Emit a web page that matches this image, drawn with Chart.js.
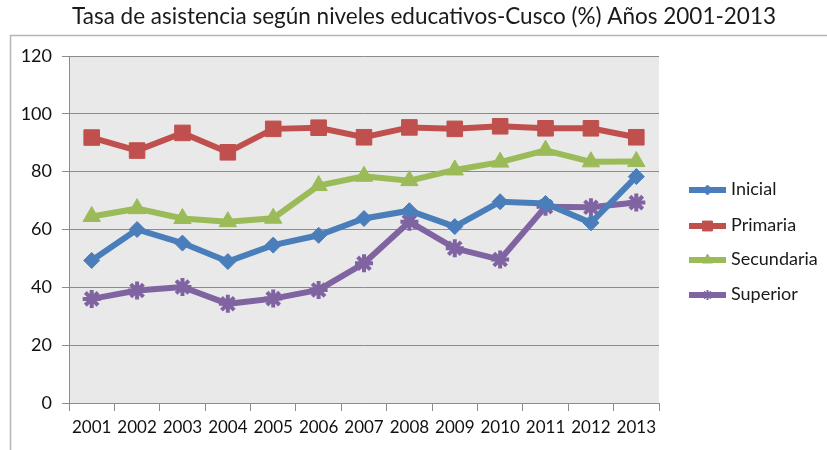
<!DOCTYPE html>
<html>
<head>
<meta charset="utf-8">
<script src="https://cdn.jsdelivr.net/npm/chart.js@4"></script>
<style>
  html, body { margin: 0; padding: 0; background: #ffffff; }
  canvas { display: block; }
</style>
</head>
<body>
<canvas id="chart" width="827" height="450"></canvas>
<script>
// Values
const years = ['2001', '2002', '2003', '2004', '2005', '2006', '2007', '2008', '2009', '2010', '2011', '2012', '2013'];
const inicial = [49.3, 60.0, 55.3, 48.9, 54.6, 58.0, 63.8, 66.5, 61.0, 69.6, 69.0, 62.3, 78.3];
const primaria = [91.8, 87.3, 93.4, 86.7, 94.8, 95.2, 91.9, 95.3, 94.8, 95.7, 95.0, 95.0, 91.9];
const secundaria = [64.5, 67.2, 63.8, 62.7, 63.9, 75.2, 78.4, 76.9, 80.6, 83.3, 87.4, 83.4, 83.5];
const superior = [36.0, 38.9, 40.1, 34.3, 36.1, 39.1, 48.3, 62.7, 53.5, 49.6, 67.9, 67.7, 69.3];
const yTicks = [0, 20, 40, 60, 80, 100, 120];

const titleText = 'Tasa de asistencia según niveles educativos-Cusco (%) Años 2001-2013';
const fontFamily = 'Lato, "Open Sans", sans-serif';

// Frame, plot background, title and legend drawn around the chart
const decorPlugin = {
    id: 'decor',
    beforeDraw(chart) {
        const { ctx, chartArea } = chart;
        ctx.save();
        ctx.fillStyle = '#ffffff';
        ctx.fillRect(0, 0, chart.width, chart.height);
        // outer frame
        ctx.strokeStyle = '#b5b5b5';
        ctx.lineWidth = 1.5;
        ctx.beginPath();
        ctx.moveTo(10.5, chart.height);
        ctx.lineTo(10.5, 35.5);
        ctx.lineTo(chart.width, 35.5);
        ctx.stroke();
        // plot background
        ctx.fillStyle = '#e9e9e9';
        ctx.fillRect(chartArea.left, chartArea.top, chartArea.right - chartArea.left, chartArea.bottom - chartArea.top);
        // title, sized to span the same width as the original
        ctx.font = '18px ' + fontFamily;
        const size = 18 * 705 / ctx.measureText(titleText).width;
        ctx.font = size.toFixed(1) + 'px ' + fontFamily;
        ctx.fillStyle = '#1a1a1a';
        ctx.textAlign = 'center';
        ctx.textBaseline = 'middle';
        ctx.fillText(titleText, 424, 17);
        ctx.restore();
    },
    afterDraw(chart) {
        const { ctx } = chart;
        const rows = [190, 226, 260, 295];
        ctx.save();
        chart.data.datasets.forEach((ds, i) => {
            const y = rows[i];
            ctx.strokeStyle = ds.borderColor;
            ctx.fillStyle = ds.borderColor;
            ctx.lineWidth = 6;
            ctx.beginPath();
            ctx.moveTo(689, y);
            ctx.lineTo(726, y);
            ctx.stroke();
            ctx.lineWidth = ds.legendMarkerWidth;
            Chart.helpers.drawPoint(ctx, {
                pointStyle: ds.pointStyle,
                radius: ds.legendMarkerRadius,
                rotation: 0,
                borderWidth: ds.legendMarkerWidth
            }, 707.5, y);
            ctx.fillStyle = '#1a1a1a';
            ctx.font = '18px ' + fontFamily;
            ctx.textAlign = 'left';
            ctx.textBaseline = 'middle';
            ctx.fillText(ds.label, 731, y - 1);
        });
        ctx.restore();
    }
};

const makeSeries = (label, data, color, style, radius, bw) => ({
    label,
    data,
    borderColor: color,
    backgroundColor: color,
    pointBackgroundColor: color,
    pointBorderColor: color,
    pointStyle: style,
    pointRadius: radius,
    pointHoverRadius: radius,
    pointBorderWidth: bw,
    borderWidth: 6,
    tension: 0,
    legendMarkerRadius: Math.round(radius * 0.6),
    legendMarkerWidth: bw > 1 ? 2 : 1
});

new Chart(document.getElementById('chart'), {
    type: 'line',
    data: {
        labels: years,
        datasets: [
            makeSeries('Inicial', inicial, '#4a7ebb', 'rectRot', 8, 1),
            makeSeries('Primaria', primaria, '#c0504d', 'rect', 11, 1),
            makeSeries('Secundaria', secundaria, '#9bbb59', 'triangle', 10, 1),
            makeSeries('Superior', superior, '#8064a2', 'star', 9, 4)
        ]
    },
    options: {
        responsive: false,
        animation: false,
        layout: { padding: { top: 56, right: 168, left: 0, bottom: 0 } },
        plugins: {
            legend: { display: false },
            title: { display: false },
            tooltip: { enabled: false }
        },
        scales: {
            x: {
                offset: true,
                grid: {
                    offset: true,
                    drawOnChartArea: false,
                    drawTicks: true,
                    tickLength: 8,
                    color: '#8c8c8c',
                    lineWidth: 1
                },
                border: { display: true, color: '#8c8c8c', width: 1 },
                ticks: {
                    color: '#111111',
                    font: { family: fontFamily, size: 17 },
                    padding: 6,
                    maxRotation: 0,
                    autoSkip: false
                },
                afterFit(scale) { scale.height = 47; }
            },
            y: {
                min: 0,
                max: 120,
                afterBuildTicks(scale) { scale.ticks = yTicks.map(v => ({ value: v })); },
                grid: {
                    color: '#8c8c8c',
                    lineWidth: 1,
                    drawTicks: true,
                    tickLength: 7
                },
                border: { display: true, color: '#8c8c8c', width: 1 },
                ticks: {
                    color: '#111111',
                    font: { family: fontFamily, size: 18 },
                    padding: 10
                },
                afterFit(scale) { scale.width = 69; }
            }
        }
    },
    plugins: [decorPlugin]
});
</script>
</body>
</html>
